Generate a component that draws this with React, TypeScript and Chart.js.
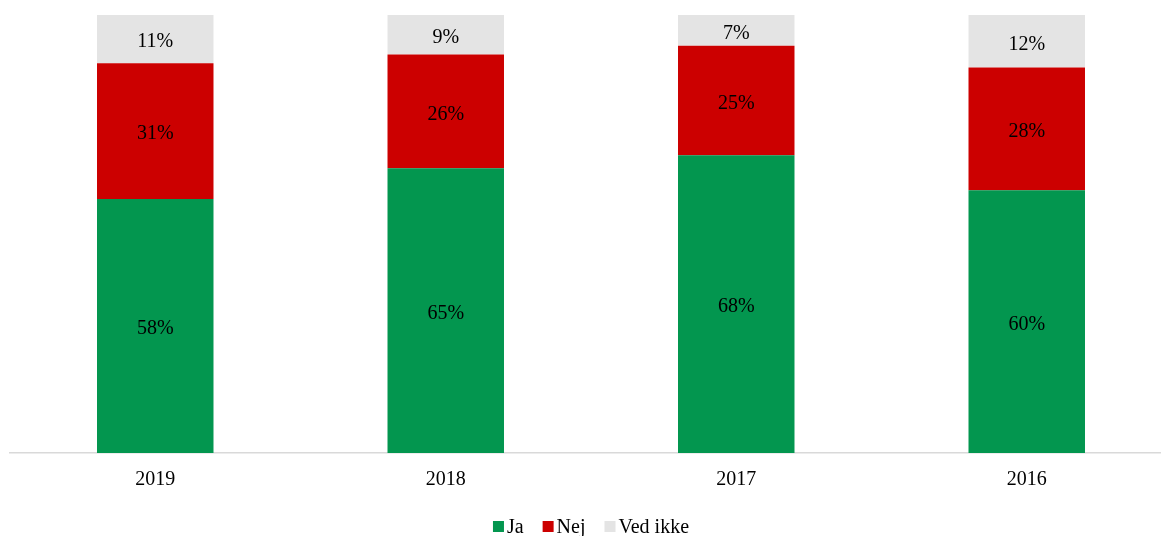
import React, { useEffect, useRef } from "react";
import { Chart, registerables } from "chart.js";

Chart.register(...registerables);

const categories = ["2019", "2018", "2017", "2016"];
const jaValues = [58, 65, 68, 60];
const nejValues = [31, 26, 25, 28];
const vedIkkeValues = [11, 9, 7, 12];
const seriesNames = ["Ja", "Nej", "Ved ikke"];
const seriesColors = ["#03964F", "#CC0000", "#E4E4E4"];

const FONT = '"Liberation Serif", "Times New Roman", serif';

const dataLabelPlugin = {
  id: "dataLabels",
  afterDatasetsDraw(chart: any) {
    const ctx = chart.ctx;
    ctx.save();
    ctx.font = `20px ${FONT}`;
    ctx.fillStyle = "#000";
    ctx.textAlign = "center";
    ctx.textBaseline = "middle";
    chart.data.datasets.forEach((ds: any, di: number) => {
      const meta = chart.getDatasetMeta(di);
      meta.data.forEach((el: any, i: number) => {
        const y = (el.y + el.base) / 2;
        ctx.fillText(ds.data[i] + "%", el.x, y + 3);
      });
    });
    ctx.restore();
  },
};

const legendPlugin = {
  id: "customLegend",
  afterDraw(chart: any) {
    const ctx = chart.ctx;
    const area = chart.chartArea;
    ctx.save();
    ctx.font = `20px ${FONT}`;
    ctx.textBaseline = "middle";
    ctx.textAlign = "left";
    const box = 11;
    const gap = 3;
    const spacing = 19;
    const items = chart.data.datasets.map((ds: any) => ({
      label: ds.label,
      color: ds.backgroundColor,
      w: ctx.measureText(ds.label).width,
    }));
    let total = 0;
    items.forEach((it: any, i: number) => {
      total += box + gap + it.w + (i < items.length - 1 ? spacing : 0);
    });
    let x = (area.left + area.right) / 2 - total / 2;
    const cy = 526.5;
    items.forEach((it: any) => {
      ctx.fillStyle = it.color;
      ctx.fillRect(x, cy - box / 2, box, box);
      x += box + gap;
      ctx.fillStyle = "#000";
      ctx.fillText(it.label, x, cy + 1);
      x += it.w + spacing;
    });
    ctx.restore();
  },
};

export default function App() {
  const ref = useRef<HTMLCanvasElement | null>(null);
  useEffect(() => {
    if (!ref.current) return;
    const chart = new Chart(ref.current, {
      type: "bar",
      data: {
        labels: categories,
        datasets: [
          { label: seriesNames[0], data: jaValues, backgroundColor: seriesColors[0] },
          { label: seriesNames[1], data: nejValues, backgroundColor: seriesColors[1] },
          { label: seriesNames[2], data: vedIkkeValues, backgroundColor: seriesColors[2] },
        ],
      },
      options: {
        animation: false,
        responsive: false,
        devicePixelRatio: 1,
        layout: { padding: { left: 10, top: 15, right: 0, bottom: 0 } },
        datasets: {
          bar: { barPercentage: 0.401, categoryPercentage: 1, borderWidth: 0 },
        },
        plugins: {
          legend: { display: false },
          tooltip: { enabled: false },
        },
        scales: {
          x: {
            stacked: true,
            grid: { display: false, drawTicks: false },
            border: { display: true, color: "#D9D9D9", width: 1.5 },
            ticks: { color: "#000", font: { family: FONT, size: 20 }, padding: 15 },
            afterFit(scale: any) {
              scale.height = 83;
            },
          },
          y: {
            stacked: true,
            display: false,
            min: 0,
            max: 100,
          },
        },
      },
      plugins: [dataLabelPlugin, legendPlugin],
    } as any);
    return () => chart.destroy();
  }, []);
  return (
    <div
      style={{
        position: "fixed",
        left: 0,
        top: 0,
        width: 1161,
        height: 536,
        overflow: "hidden",
        background: "#fff",
      }}
    >
      <canvas ref={ref} width={1172} height={536} style={{ display: "block" }} />
    </div>
  );
}
